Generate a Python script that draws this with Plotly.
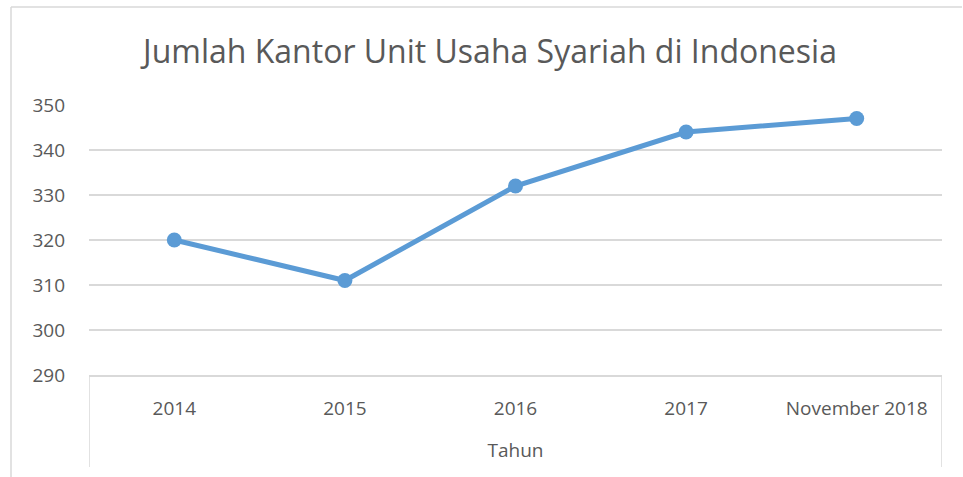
import plotly.graph_objects as go

categories = ["2014", "2015", "2016", "2017", "November 2018"]
values = [320, 311, 332, 344, 347]
y_ticks = [290, 300, 310, 320, 330, 340, 350]
title_text = "Jumlah Kantor Unit Usaha Syariah di Indonesia"
x_title = "Tahun"

W, H = 963, 477
L, R, T, B = 89, 942, 105, 375
pw, ph = R - L, B - T

def px_x(p):
    return (p - L) / pw

def px_y(p):
    return (B - p) / ph

FONT = "Open Sans"
GRAY = "#595959"
GRID = "#d9d9d9"
BLUE = "#5b9bd5"

fig = go.Figure()
fig.add_trace(go.Scatter(
    x=categories, y=values, mode="lines+markers",
    line=dict(color=BLUE, width=5),
    marker=dict(color=BLUE, size=15),
    showlegend=False, hoverinfo="skip",
))

fig.update_layout(
    width=W, height=H,
    margin=dict(l=L, r=W - R, t=T, b=H - B, pad=0),
    paper_bgcolor="white", plot_bgcolor="white",
    font=dict(family=FONT, color=GRAY, size=19),
    title=dict(text=title_text, x=490 / W, xref="container",
               xanchor="center", y=1 - 52 / H, yanchor="middle",
               font=dict(family=FONT, size=32, color=GRAY)),
    xaxis=dict(
        type="category", range=[-0.5, 4.5], showgrid=False,
        showline=True, linecolor=GRID, linewidth=1.5,
        ticks="", ticklabelstandoff=15,
        tickfont=dict(size=19, color=GRAY),
        title=dict(text=x_title, standoff=24, font=dict(size=19, color=GRAY)),
        zeroline=False, fixedrange=True,
    ),
    yaxis=dict(
        range=[290, 350], tickvals=y_ticks, showgrid=True,
        gridcolor=GRID, gridwidth=1.5, showline=False, zeroline=False,
        ticks="", ticklabelstandoff=23,
        tickfont=dict(size=19, color=GRAY), fixedrange=True,
    ),
    shapes=[
        dict(type="line", xref="paper", yref="paper",
             x0=px_x(11), x1=px_x(962), y0=px_y(7), y1=px_y(7),
             line=dict(color=GRID, width=1.5)),
        dict(type="line", xref="paper", yref="paper",
             x0=px_x(11), x1=px_x(11), y0=px_y(7), y1=px_y(480),
             line=dict(color=GRID, width=1.5)),
        dict(type="line", xref="x", yref="paper",
             x0=-0.5, x1=-0.5, y0=0, y1=px_y(467),
             line=dict(color=GRID, width=1.5)),
        dict(type="line", xref="x", yref="paper",
             x0=4.5, x1=4.5, y0=0, y1=px_y(467),
             line=dict(color=GRID, width=1.5)),
    ],
)

fig.write_html("out.html")
